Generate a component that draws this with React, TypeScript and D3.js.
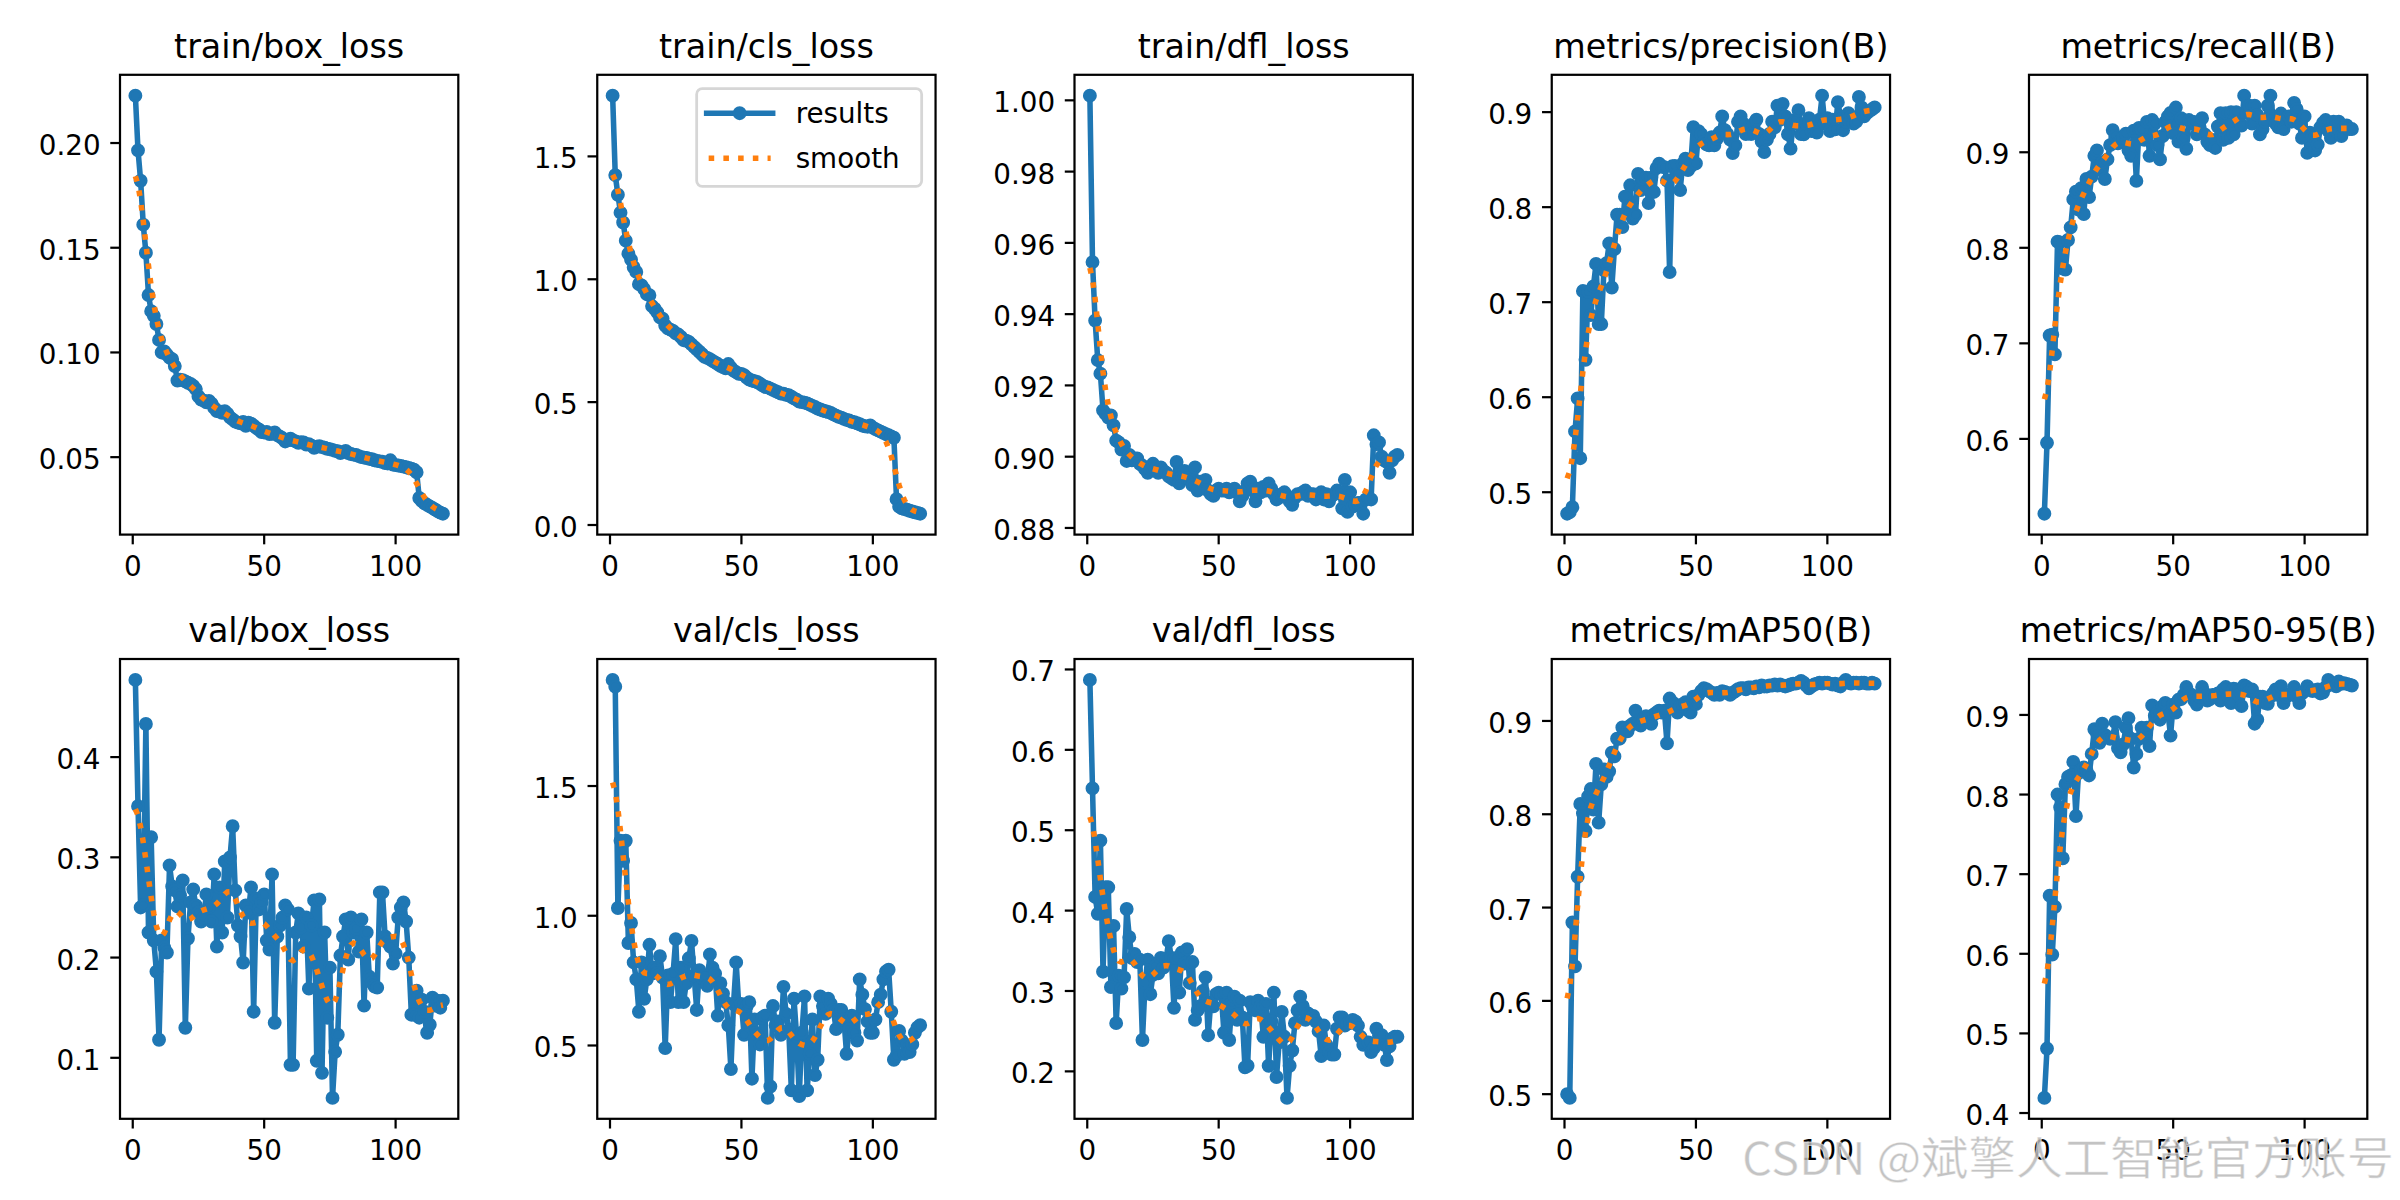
import React from 'react';
import * as d3 from 'd3';

const epochs = d3.range(1, 119);

const trainBox = [0.2226,0.1965,0.1820,0.1610,0.1476,0.1274,0.1197,0.1175,0.1136,0.1060,
 0.1000,0.1005,0.0990,0.0975,0.0968,0.0935,0.0866,0.0870,0.0868,0.0862,
 0.0855,0.0850,0.0840,0.0825,0.0790,0.0775,0.0770,0.0762,0.0768,0.0755,
 0.0735,0.0720,0.0718,0.0712,0.0720,0.0708,0.0690,0.0680,0.0670,0.0665,
 0.0662,0.0668,0.0650,0.0665,0.0660,0.0650,0.0640,0.0632,0.0620,0.0618,
 0.0620,0.0610,0.0612,0.0618,0.0605,0.0598,0.0590,0.0575,0.0580,0.0588,
 0.0580,0.0575,0.0568,0.0572,0.0570,0.0560,0.0562,0.0555,0.0545,0.0550,
 0.0552,0.0548,0.0545,0.0540,0.0538,0.0535,0.0530,0.0528,0.0520,0.0525,
 0.0530,0.0520,0.0515,0.0512,0.0510,0.0505,0.0500,0.0498,0.0496,0.0492,
 0.0490,0.0485,0.0482,0.0480,0.0478,0.0472,0.0470,0.0485,0.0465,0.0462,
 0.0460,0.0458,0.0455,0.0452,0.0448,0.0445,0.0440,0.0428,0.0305,0.0290,
 0.0280,0.0272,0.0265,0.0258,0.0250,0.0242,0.0235,0.0230];

const trainCls = [1.747,1.424,1.344,1.271,1.231,1.157,1.104,1.080,1.049,1.030,
 0.980,0.975,0.960,0.940,0.935,0.891,0.880,0.865,0.845,0.840,
 0.812,0.800,0.795,0.790,0.780,0.775,0.765,0.752,0.750,0.745,
 0.735,0.725,0.715,0.705,0.695,0.684,0.680,0.675,0.668,0.662,
 0.655,0.648,0.643,0.638,0.655,0.640,0.628,0.622,0.615,0.615,
 0.610,0.600,0.592,0.588,0.585,0.582,0.575,0.568,0.562,0.560,
 0.555,0.550,0.545,0.540,0.535,0.534,0.530,0.528,0.522,0.515,
 0.510,0.502,0.500,0.498,0.495,0.490,0.485,0.480,0.474,0.470,
 0.466,0.463,0.460,0.456,0.450,0.445,0.440,0.437,0.432,0.428,
 0.425,0.420,0.418,0.414,0.410,0.405,0.402,0.400,0.405,0.396,
 0.390,0.385,0.380,0.375,0.370,0.365,0.360,0.355,0.105,0.075,
 0.068,0.065,0.062,0.058,0.055,0.052,0.049,0.046];

const trainDfl = [1.0013,0.9546,0.9382,0.9271,0.9233,0.9130,0.9120,0.9110,0.9116,0.9088,
 0.9045,0.9040,0.9020,0.9030,0.8988,0.9005,0.8990,0.8995,0.8995,0.8980,
 0.8975,0.8965,0.8955,0.8965,0.8980,0.8965,0.8955,0.8970,0.8960,0.8955,
 0.8945,0.8940,0.8935,0.8985,0.8925,0.8945,0.8960,0.8940,0.8935,0.8920,
 0.8970,0.8905,0.8930,0.8925,0.8935,0.8905,0.8895,0.8890,0.8905,0.8910,
 0.8905,0.8905,0.8910,0.8900,0.8905,0.8910,0.8900,0.8875,0.8890,0.8905,
 0.8925,0.8930,0.8905,0.8875,0.8910,0.8900,0.8915,0.8905,0.8925,0.8910,
 0.8895,0.8880,0.8885,0.8895,0.8900,0.8890,0.8875,0.8865,0.8885,0.8895,
 0.8895,0.8900,0.8905,0.8890,0.8895,0.8895,0.8880,0.8885,0.8900,0.8880,
 0.8895,0.8875,0.8890,0.8895,0.8905,0.8900,0.8855,0.8935,0.8845,0.8900,
 0.8860,0.8865,0.8870,0.8870,0.8840,0.8880,0.8885,0.8880,0.9060,0.9035,
 0.9040,0.9000,0.8990,0.8985,0.8955,0.8990,0.9000,0.9005];

const precision = [0.4774,0.4790,0.4842,0.5640,0.5987,0.5358,0.7117,0.6394,0.7110,0.6864,
 0.7166,0.7403,0.6770,0.6770,0.7335,0.7410,0.7618,0.7154,0.7560,0.7920,
 0.7920,0.7790,0.8110,0.7945,0.8230,0.7880,0.7920,0.8350,0.8180,0.8295,
 0.8310,0.8043,0.8310,0.8160,0.8410,0.8458,0.8430,0.8420,0.8280,0.7316,
 0.8430,0.8435,0.8350,0.8180,0.8458,0.8510,0.8390,0.8430,0.8842,0.8460,
 0.8800,0.8767,0.8690,0.8660,0.8650,0.8736,0.8650,0.8720,0.8785,0.8955,
 0.8810,0.8767,0.8710,0.8570,0.8650,0.8898,0.8955,0.8880,0.8770,0.8840,
 0.8770,0.8880,0.8920,0.8770,0.8690,0.8580,0.8710,0.8770,0.8900,0.8840,
 0.9068,0.8920,0.9087,0.8955,0.8767,0.8616,0.8880,0.8920,0.9020,0.8770,
 0.8767,0.8880,0.8936,0.8800,0.8860,0.8785,0.8920,0.9173,0.8880,0.8936,
 0.8800,0.8920,0.8820,0.9105,0.8955,0.8810,0.8900,0.8990,0.8955,0.8880,
 0.8900,0.9160,0.9050,0.8955,0.8990,0.9010,0.9030,0.9050];

const recall = [0.5217,0.5959,0.7082,0.7090,0.6884,0.8064,0.8056,0.7783,0.7772,0.8082,
 0.8213,0.8506,0.8588,0.8400,0.8625,0.8352,0.8720,0.8530,0.8745,0.8963,
 0.9019,0.8820,0.8895,0.8720,0.8925,0.9075,0.9232,0.9170,0.9094,0.9120,
 0.9157,0.9195,0.9020,0.8963,0.9225,0.8700,0.9255,0.9240,0.9130,0.9318,
 0.8963,0.9337,0.9300,0.9075,0.8925,0.9170,0.9318,0.9375,0.9412,0.9200,
 0.9468,0.9112,0.9356,0.9150,0.9037,0.9337,0.9300,0.9318,0.9187,0.9260,
 0.9356,0.9187,0.9110,0.9075,0.9130,0.9045,0.9270,0.9410,0.9130,0.9410,
 0.9150,0.9420,0.9187,0.9420,0.9320,0.9280,0.9592,0.9410,0.9487,0.9300,
 0.9487,0.9390,0.9187,0.9243,0.9320,0.9487,0.9592,0.9375,0.9300,0.9260,
 0.9405,0.9243,0.9356,0.9375,0.9320,0.9517,0.9450,0.9300,0.9150,0.9375,
 0.8993,0.9206,0.9170,0.9019,0.9080,0.9260,0.9307,0.9337,0.9225,0.9150,
 0.9320,0.9225,0.9320,0.9170,0.9260,0.9280,0.9243,0.9243];

const valBox = [0.477,0.351,0.250,0.252,0.433,0.225,0.320,0.217,0.186,0.118,
 0.217,0.210,0.205,0.292,0.271,0.267,0.251,0.262,0.277,0.130,
 0.219,0.255,0.268,0.252,0.245,0.236,0.240,0.263,0.250,0.236,
 0.283,0.211,0.270,0.225,0.296,0.240,0.300,0.331,0.267,0.232,
 0.221,0.195,0.252,0.245,0.270,0.146,0.259,0.248,0.255,0.263,
 0.217,0.208,0.283,0.135,0.221,0.232,0.240,0.252,0.248,0.093,
 0.093,0.225,0.244,0.230,0.211,0.240,0.169,0.232,0.257,0.097,
 0.258,0.085,0.225,0.140,0.190,0.060,0.106,0.123,0.202,0.221,
 0.238,0.198,0.240,0.225,0.229,0.206,0.238,0.152,0.225,0.181,
 0.175,0.171,0.170,0.265,0.265,0.221,0.215,0.211,0.194,0.204,
 0.240,0.250,0.255,0.236,0.200,0.143,0.143,0.167,0.140,0.158,
 0.146,0.125,0.133,0.160,0.152,0.157,0.150,0.157];

const valCls = [1.909,1.883,1.030,1.289,1.212,1.289,0.895,0.972,0.820,0.755,
 0.630,0.820,0.680,0.755,0.888,0.777,0.800,0.780,0.844,0.762,
 0.490,0.770,0.667,0.777,0.910,0.667,0.800,0.667,0.740,0.836,
 0.903,0.770,0.637,0.790,0.760,0.770,0.730,0.851,0.800,0.777,
 0.615,0.740,0.700,0.667,0.578,0.409,0.660,0.820,0.652,0.660,
 0.541,0.652,0.667,0.372,0.600,0.541,0.504,0.608,0.615,0.298,
 0.342,0.652,0.578,0.593,0.541,0.726,0.622,0.560,0.327,0.680,
 0.534,0.305,0.549,0.689,0.327,0.468,0.600,0.386,0.445,0.689,
 0.652,0.622,0.680,0.660,0.637,0.563,0.637,0.637,0.600,0.468,
 0.563,0.615,0.549,0.519,0.755,0.696,0.640,0.593,0.549,0.549,
 0.600,0.667,0.696,0.755,0.785,0.792,0.630,0.445,0.460,0.556,
 0.519,0.468,0.500,0.475,0.504,0.549,0.570,0.578];

const valDfl = [0.687,0.552,0.417,0.396,0.487,0.324,0.429,0.429,0.305,0.381,
 0.260,0.319,0.303,0.317,0.402,0.367,0.341,0.346,0.336,0.339,
 0.239,0.310,0.339,0.296,0.320,0.331,0.322,0.341,0.329,0.340,
 0.362,0.341,0.279,0.341,0.298,0.348,0.334,0.352,0.310,0.336,
 0.264,0.276,0.281,0.300,0.317,0.245,0.286,0.281,0.296,0.298,
 0.296,0.248,0.298,0.239,0.286,0.293,0.264,0.288,0.267,0.205,
 0.207,0.286,0.280,0.276,0.288,0.281,0.243,0.284,0.207,0.262,
 0.298,0.193,0.236,0.274,0.243,0.167,0.207,0.226,0.260,0.276,
 0.293,0.281,0.264,0.272,0.267,0.269,0.262,0.250,0.219,0.257,
 0.233,0.224,0.221,0.221,0.253,0.267,0.267,0.257,0.260,0.260,
 0.264,0.262,0.257,0.243,0.233,0.236,0.236,0.224,0.229,0.253,
 0.245,0.245,0.233,0.214,0.231,0.241,0.243,0.243];

const map50 = [0.500,0.496,0.684,0.637,0.733,0.811,0.801,0.782,0.819,0.827,
 0.805,0.854,0.791,0.832,0.848,0.840,0.846,0.866,0.862,0.881,
 0.881,0.893,0.891,0.889,0.895,0.897,0.911,0.897,0.895,0.901,
 0.905,0.899,0.897,0.907,0.909,0.911,0.909,0.911,0.876,0.924,
 0.920,0.918,0.909,0.916,0.918,0.920,0.911,0.909,0.926,0.918,
 0.928,0.932,0.935,0.934,0.932,0.930,0.928,0.930,0.928,0.932,
 0.931,0.930,0.928,0.930,0.932,0.934,0.935,0.935,0.934,0.936,
 0.936,0.935,0.937,0.936,0.938,0.937,0.937,0.938,0.938,0.939,
 0.938,0.939,0.938,0.937,0.938,0.939,0.940,0.940,0.941,0.943,
 0.941,0.938,0.935,0.937,0.939,0.940,0.941,0.940,0.941,0.941,
 0.940,0.939,0.940,0.938,0.937,0.941,0.944,0.941,0.940,0.941,
 0.941,0.940,0.941,0.941,0.940,0.940,0.941,0.940];

const map5095 = [0.419,0.481,0.673,0.599,0.659,0.800,0.784,0.720,0.813,0.822,
 0.824,0.841,0.773,0.827,0.831,0.834,0.831,0.824,0.851,0.882,
 0.877,0.865,0.889,0.875,0.872,0.870,0.872,0.891,0.858,0.853,
 0.863,0.884,0.896,0.870,0.834,0.851,0.870,0.884,0.872,0.884,
 0.861,0.912,0.899,0.903,0.894,0.911,0.915,0.903,0.874,0.913,
 0.903,0.919,0.920,0.925,0.935,0.927,0.925,0.918,0.913,0.923,
 0.935,0.927,0.918,0.920,0.925,0.923,0.927,0.918,0.932,0.935,
 0.923,0.915,0.933,0.932,0.925,0.911,0.937,0.935,0.930,0.932,
 0.889,0.894,0.923,0.923,0.915,0.914,0.923,0.927,0.932,0.925,
 0.936,0.915,0.923,0.925,0.927,0.935,0.923,0.915,0.927,0.930,
 0.936,0.932,0.930,0.931,0.932,0.927,0.928,0.935,0.944,0.938,
 0.939,0.936,0.942,0.939,0.940,0.939,0.938,0.937];

const titles = ['train/box_loss','train/cls_loss','train/dfl_loss','metrics/precision(B)','metrics/recall(B)',
  'val/box_loss','val/cls_loss','val/dfl_loss','metrics/mAP50(B)','metrics/mAP50-95(B)'];
const seriesList = [trainBox, trainCls, trainDfl, precision, recall, valBox, valCls, valDfl, map50, map5095];
const yTicksList = [
  [0.05,0.10,0.15,0.20],
  [0.0,0.5,1.0,1.5],
  [0.88,0.90,0.92,0.94,0.96,0.98,1.00],
  [0.5,0.6,0.7,0.8,0.9],
  [0.6,0.7,0.8,0.9],
  [0.1,0.2,0.3,0.4],
  [0.5,1.0,1.5],
  [0.2,0.3,0.4,0.5,0.6,0.7],
  [0.5,0.6,0.7,0.8,0.9],
  [0.4,0.5,0.6,0.7,0.8,0.9],
];
const yDigits = [2,1,2,1,1,1,1,1,1,1];
const xTicks = [0, 50, 100];
const legendLabels = ['results', 'smooth'];
const watermark = 'CSDN @斌擎人工智能官方账号';

// layout (pixels of a 12x6in figure at 200 dpi)
const PT = 200 / 72;
const colLeft = [120, 597.25, 1074.5, 1551.75, 2029];
const rowTop = [74.8, 659];
const AXW = 338.3;
const AXH = 459.8;
const BLUE = '#1f77b4';
const ORANGE = '#ff7f0e';
const FONT = "'DejaVu Sans', sans-serif";

function gaussianSmooth(y: number[], sigma = 3): number[] {
  const r = Math.floor(4 * sigma + 0.5);
  const w: number[] = [];
  let s = 0;
  for (let k = -r; k <= r; k++) { const v = Math.exp(-0.5 * k * k / (sigma * sigma)); w.push(v); s += v; }
  const n = y.length;
  const refl = (i: number) => { const p = 2 * n; const j = ((i % p) + p) % p; return j < n ? j : p - 1 - j; };
  return y.map((_, i) => { let acc = 0; for (let k = -r; k <= r; k++) acc += w[k + r] * y[refl(i + k)]; return acc / s; });
}

function Panel({ idx }: { idx: number }) {
  const data = seriesList[idx];
  const left = colLeft[idx % 5];
  const top = rowTop[Math.floor(idx / 5)];
  const smooth = gaussianSmooth(data);
  const [xmin, xmax] = d3.extent(epochs) as [number, number];
  const xm = (xmax - xmin) * 0.05;
  const lo = Math.min(d3.min(data)!, d3.min(smooth)!);
  const hi = Math.max(d3.max(data)!, d3.max(smooth)!);
  const ym = (hi - lo) * 0.05;
  const xs = d3.scaleLinear().domain([xmin - xm, xmax + xm]).range([left, left + AXW]);
  const ys = d3.scaleLinear().domain([lo - ym, hi + ym]).range([top + AXH, top]);
  const pts = epochs.map((e, i) => [e, data[i]] as [number, number]);
  const spts = epochs.map((e, i) => [e, smooth[i]] as [number, number]);
  const line = d3.line<[number, number]>().x(d => xs(d[0])).y(d => ys(d[1]));
  const tickLen = 3.5 * PT;
  const tickW = 0.8 * PT;
  const tickFs = 10 * PT;
  const lw = 2 * PT;
  const mr = 2 * PT;
  const mew = 1 * PT;
  const bottom = top + AXH;
  return (
    <g>
      <text x={left + AXW / 2} y={top - 6 * PT} textAnchor="middle" fontFamily={FONT} fontSize={12 * PT} fill="#000">{titles[idx]}</text>
      <defs>
        <clipPath id={`clip${idx}`}><rect x={left} y={top} width={AXW} height={AXH} /></clipPath>
      </defs>
      <g clipPath={`url(#clip${idx})`}>
        <path d={line(pts)!} fill="none" stroke={BLUE} strokeWidth={lw} strokeLinejoin="round" strokeLinecap="square" />
        {pts.map((p, i) => (
          <circle key={i} cx={xs(p[0])} cy={ys(p[1])} r={mr} fill={BLUE} stroke={BLUE} strokeWidth={mew} />
        ))}
        <path d={line(spts)!} fill="none" stroke={ORANGE} strokeWidth={lw} strokeDasharray={`${lw} ${1.65 * lw}`} strokeLinecap="butt" />
      </g>
      <rect x={left} y={top} width={AXW} height={AXH} fill="none" stroke="#000" strokeWidth={tickW} />
      {yTicksList[idx].map((t, i) => (
        <g key={'y' + i}>
          <line x1={left - tickLen} x2={left} y1={ys(t)} y2={ys(t)} stroke="#000" strokeWidth={tickW} />
          <text x={left - 7 * PT} y={ys(t) + 12} textAnchor="end" fontFamily={FONT} fontSize={tickFs} fill="#000">{t.toFixed(yDigits[idx])}</text>
        </g>
      ))}
      {xTicks.map((t, i) => (
        <g key={'x' + i}>
          <line x1={xs(t)} x2={xs(t)} y1={bottom} y2={bottom + tickLen} stroke="#000" strokeWidth={tickW} />
          <text x={xs(t)} y={bottom + 41.5} textAnchor="middle" fontFamily={FONT} fontSize={tickFs} fill="#000">{t}</text>
        </g>
      ))}
      {idx === 1 && <Legend left={left} top={top} />}
    </g>
  );
}

function Legend({ left, top }: { left: number; top: number }) {
  const fs = 10 * PT;
  const right = left + AXW - 0.5 * fs;
  const y0 = top + 0.5 * fs;
  const bw = 225;
  const bh = 97.6;
  const bx = right - bw;
  const lw = 2 * PT;
  const hx0 = bx + 10;
  const hx1 = bx + 76;
  const r1 = y0 + 24.5;
  const r2 = y0 + 69.5;
  const tx = bx + 99;
  return (
    <g>
      <rect x={bx} y={y0} width={bw} height={bh} rx={0.2 * fs} ry={0.2 * fs} fill="#fff" fillOpacity={0.8} stroke="#cccccc" strokeOpacity={0.8} strokeWidth={1 * PT} />
      <line x1={hx0} x2={hx1} y1={r1} y2={r1} stroke={BLUE} strokeWidth={lw} strokeLinecap="square" />
      <circle cx={(hx0 + hx1) / 2} cy={r1} r={2 * PT} fill={BLUE} stroke={BLUE} strokeWidth={PT} />
      <line x1={hx0 + 2} x2={hx1 - 2} y1={r2} y2={r2} stroke={ORANGE} strokeWidth={lw} strokeDasharray={`${lw} ${1.65 * lw}`} />
      <text x={tx} y={r1 + 10} fontFamily={FONT} fontSize={fs} fill="#000">{legendLabels[0]}</text>
      <text x={tx} y={r2 + 10} fontFamily={FONT} fontSize={fs} fill="#000">{legendLabels[1]}</text>
    </g>
  );
}

export default function App() {
  return (
    <svg width={2400} height={1200} viewBox="0 0 2400 1200" style={{ position: 'absolute', left: 0, top: 0, background: '#fff' }}>
      <rect x={0} y={0} width={2400} height={1200} fill="#fff" />
      {seriesList.map((_, i) => <Panel key={i} idx={i} />)}
      <text x={1742} y={1175} fontFamily="'Noto Sans CJK SC', 'Noto Sans', sans-serif" fontSize={45} fill="#b8b8b8" fillOpacity={0.85}
        stroke="#ffffff" strokeOpacity={0.6} strokeWidth={1} textLength={652} lengthAdjust="spacingAndGlyphs">{watermark}</text>
    </svg>
  );
}
